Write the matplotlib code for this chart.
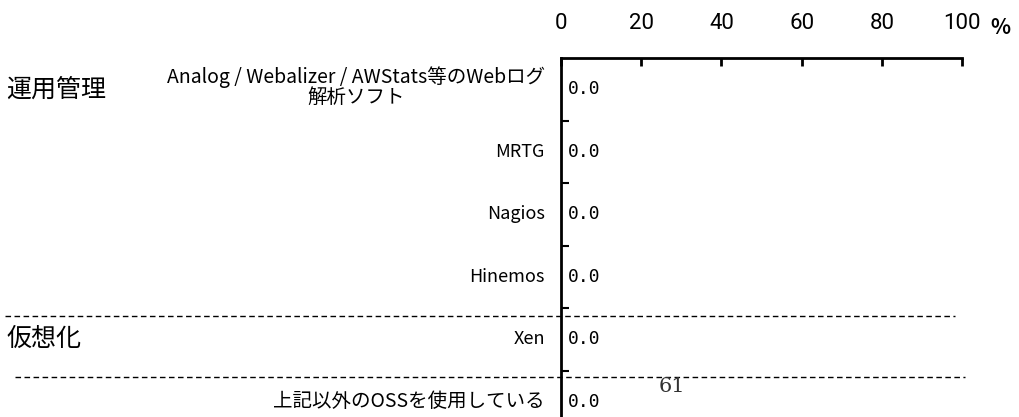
import matplotlib
matplotlib.use("Agg")
import numpy as np
import matplotlib.pyplot as plt
from matplotlib import font_manager

plt.rcParams['font.family'] = ['Noto Sans CJK JP', 'DejaVu Sans']

# data
items = ['Analog / Webalizer / AWStats等のWebログ\n解析ソフト', 'MRTG', 'Nagios',
         'Hinemos', 'Xen', '上記以外のOSSを使用している']
values = [0.0, 0.0, 0.0, 0.0, 0.0, 0.0]
groups = ['運用管理', '仮想化']
group_rows = [0, 4]
xticks = [0, 20, 40, 60, 80, 100]
page_no = '61'

# narrow font for the axis numbers if there is one
names = {f.name for f in font_manager.fontManager.ttflist}
num_font = 'Liberation Sans Narrow' if 'Liberation Sans Narrow' in names else 'Roboto'

W, H = 1019, 417
fig = plt.figure(figsize=(W / 100, H / 100), dpi=100)

# axes: 0 at x=561, 100 at x=962, top at y=58, 62.5 px per row
row_h = 62.5
top = 58
bottom = top + row_h * len(items)
ax = fig.add_axes([561 / W, (H - bottom) / H, (962 - 561) / W, (bottom - top) / H])

y = np.arange(len(items))
ax.barh(y, values, height=0.6, color='#808080')
ax.set_xlim(0, 100)
ax.set_ylim(len(items) - 0.5, -0.5)

for s in ['right', 'bottom']:
    ax.spines[s].set_visible(False)
for s in ['left', 'top']:
    ax.spines[s].set_linewidth(2)

ax.xaxis.tick_top()
ax.set_xticks(xticks)
ax.set_xticklabels([str(t) for t in xticks], fontsize=16, family=num_font)
ax.tick_params(axis='x', direction='in', length=6, width=2, pad=17)

ax.set_yticks(y[:-1] + 0.5)
ax.set_yticklabels([])
ax.tick_params(axis='y', direction='in', length=6, width=1.5)

fig.text(1000 / W, 1 - 27 / H, '%', fontsize=15, fontweight='bold',
         ha='center', va='center')

# value labels
for yi, v in zip(y, values):
    ax.text(v + 1.6, yi, f'{v:.1f}', ha='left', va='center', fontsize=13,
            family=['DejaVu Sans Mono'])

# item labels
for yi, name in zip(y, items):
    cjk = any(ord(c) > 0x2E80 for c in name)
    ax.text(-4, yi - (0.04 if '\n' in name else 0), name, ha='right', va='center',
            fontsize=14 if cjk else 13, multialignment='center', linespacing=0.95)

# group labels
for g, r in zip(groups, group_rows):
    ax.text(-138.3, r, g, ha='left', va='center', fontsize=18)

# dashed separators
ax.plot([-138.7, 98.3], [3.63, 3.63], ls=(0, (4, 2.5)), color='black', lw=1,
        clip_on=False)
ax.plot([-136.2, 100.7], [4.61, 4.61], ls=(0, (4, 2.5)), color='black', lw=1,
        clip_on=False)

fig.text(672 / W, 1 - 386 / H, page_no, ha='center', va='center', fontsize=15,
         family='DejaVu Serif', color='#333333')

fig.savefig('out.png', dpi=100)
